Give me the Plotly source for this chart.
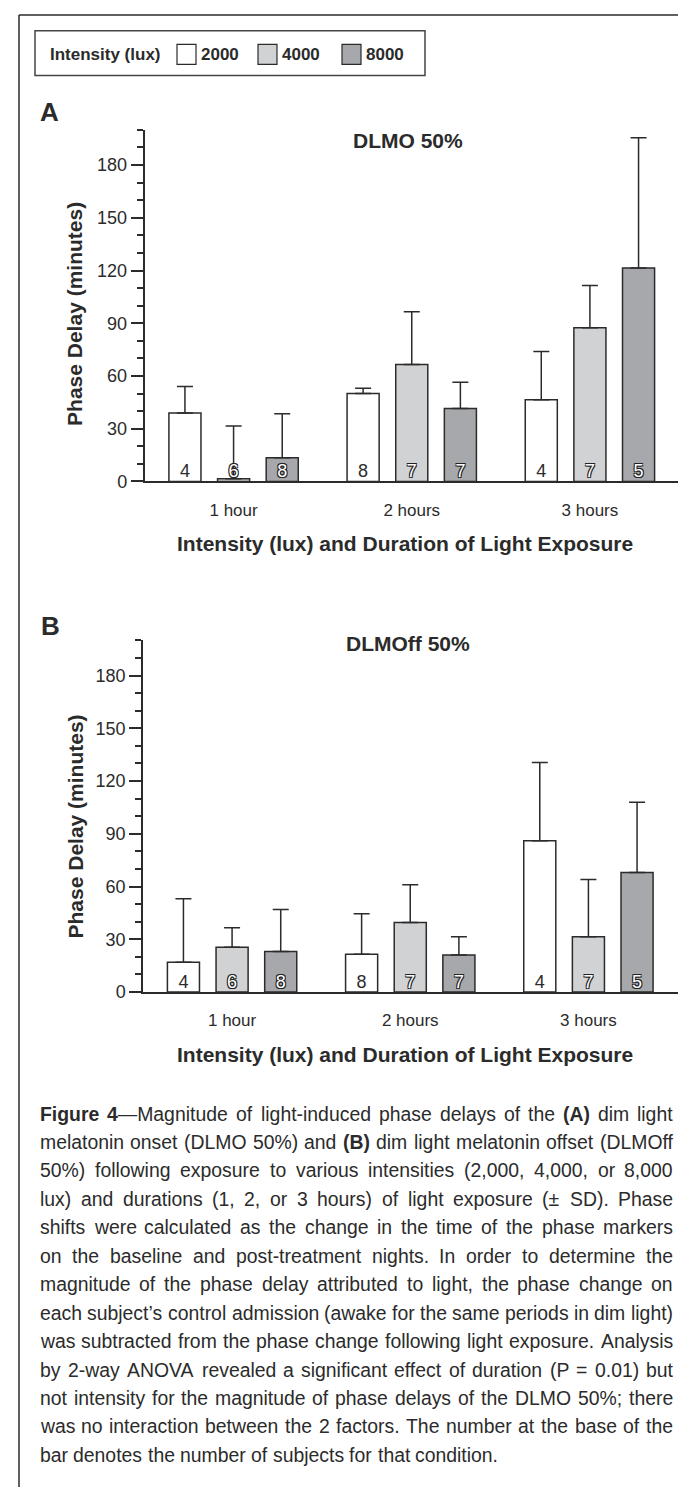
import plotly.graph_objects as go

W, H = 686, 1489
FONT = "Liberation Sans, Arial, Helvetica, sans-serif"
INK = "#2b2b2b"

# ---------------- data ----------------
durations = ["1 hour", "2 hours", "3 hours"]
intensities = ["2000", "4000", "8000"]
bar_colors = ["#ffffff", "#d1d2d4", "#a7a8ab"]

# Panel A: DLMO 50% phase delay (minutes), mean and +SD
dlmo_2000 = [39, 50, 46.5]
dlmo_4000 = [1.5, 66.5, 87.5]
dlmo_8000 = [13.5, 41.5, 121.5]
dlmo_sd_2000 = [15, 3, 27.5]
dlmo_sd_4000 = [30, 30, 24]
dlmo_sd_8000 = [25, 15, 74]

# Panel B: DLMOff 50%
dlmoff_2000 = [17, 21.5, 86]
dlmoff_4000 = [25.5, 39.5, 31.5]
dlmoff_8000 = [23, 21, 68]
dlmoff_sd_2000 = [36, 23, 44.5]
dlmoff_sd_4000 = [11, 21.5, 32.5]
dlmoff_sd_8000 = [24, 10.5, 40]

# number of subjects (same for both panels)
n_2000 = [4, 8, 4]
n_4000 = [6, 7, 7]
n_8000 = [8, 7, 5]

y_ticks = [0, 30, 60, 90, 120, 150, 180]

caption_lines = [
    "<b>Figure</b> <b>4</b>—Magnitude of light-induced phase delays of the <b>(A)</b> dim light",
    "melatonin onset (DLMO 50%) and <b>(B)</b> dim light melatonin offset (DLMOff",
    "50%) following exposure to various intensities (2,000, 4,000, or 8,000",
    "lux) and durations (1, 2, or 3 hours) of light exposure (± SD). Phase",
    "shifts were calculated as the change in the time of the phase markers",
    "on the baseline and post-treatment nights. In order to determine the",
    "magnitude of the phase delay attributed to light, the phase change on",
    "each subject’s control admission (awake for the same periods in dim light)",
    "was subtracted from the phase change following light exposure. Analysis",
    "by 2-way ANOVA revealed a significant effect of duration (P = 0.01) but",
    "not intensity for the magnitude of phase delays of the DLMO 50%; there",
    "was no interaction between the 2 factors. The number at the base of the",
    "bar denotes the number of subjects for that condition.",
]

panels = [
    dict(means=[dlmo_2000, dlmo_4000, dlmo_8000],
         sds=[dlmo_sd_2000, dlmo_sd_4000, dlmo_sd_8000],
         title="DLMO 50%", letter="A"),
    dict(means=[dlmoff_2000, dlmoff_4000, dlmoff_8000],
         sds=[dlmoff_sd_2000, dlmoff_sd_4000, dlmoff_sd_8000],
         title="DLMOff 50%", letter="B"),
]
counts = [n_2000, n_4000, n_8000]

# ---------------- layout helpers ----------------
def X(px):
    return px / W


def Y(py):
    return 1 - py / H


BAR_STEP = 0.273
BAR_W = 0.18

fig = go.Figure()

for p, panel in enumerate(panels):
    xa = "x" if p == 0 else "x2"
    ya = "y" if p == 0 else "y2"
    for k in range(3):
        xs = [i + (k - 1) * BAR_STEP for i in range(len(durations))]
        fig.add_trace(go.Bar(
            x=xs, y=panel["means"][k], width=BAR_W,
            marker=dict(color=bar_colors[k], line=dict(color=INK, width=1.5)),
            error_y=dict(type="data", array=panel["sds"][k],
                         arrayminus=[0] * len(durations), symmetric=False,
                         color=INK, thickness=1.5, width=8),
            name=intensities[k], xaxis=xa, yaxis=ya, showlegend=False,
            hoverinfo="skip",
        ))
        if k == 0:
            tf = dict(family=FONT, size=18, color=INK)
        else:
            tf = dict(family=FONT, size=18, color="#ffffff",
                      shadow="1px 1px 0 #222, -1px -1px 0 #222, 1px -1px 0 #222, -1px 1px 0 #222")
        fig.add_trace(go.Scatter(
            x=xs, y=[0] * len(durations), mode="text",
            text=[str(n) for n in counts[k]], textposition="top center",
            textfont=tf, xaxis=xa, yaxis=ya, showlegend=False, hoverinfo="skip",
        ))

axis_common_y = dict(
    range=[0, 200], tickvals=y_ticks, ticks="outside", ticklen=12, tickwidth=1.5,
    tickcolor=INK, showline=True, linecolor=INK, linewidth=1.5, showgrid=False,
    zeroline=False, tickfont=dict(family=FONT, size=18, color=INK),
    minor=dict(dtick=10, tick0=0, ticks="outside", ticklen=6, tickwidth=1.5,
               tickcolor=INK, showgrid=False),
    fixedrange=True,
)
axis_common_x = dict(
    range=[-0.5, 2.5], tickvals=[0, 1, 2], ticktext=durations, ticks="",
    showline=True, linecolor=INK, linewidth=1.5, showgrid=False, zeroline=False,
    tickfont=dict(family=FONT, size=17, color=INK), ticklabelstandoff=12,
    fixedrange=True,
)

fig.update_layout(
    width=W, height=H, margin=dict(l=0, r=0, t=0, b=0),
    paper_bgcolor="white", plot_bgcolor="white", showlegend=False,
    barmode="overlay",
    xaxis=dict(domain=[X(136.5), X(671)], anchor="y", **axis_common_x),
    yaxis=dict(domain=[Y(476.7), Y(122.7)], anchor="x", **axis_common_y),
    xaxis2=dict(domain=[X(135), X(669.5)], anchor="y2", **axis_common_x),
    yaxis2=dict(domain=[Y(990.7), Y(636.7)], anchor="x2", **axis_common_y),
)

shapes = []
ann = []
line_style = dict(color=INK, width=1.5)
# outer frame
shapes.append(dict(type="line", xref="paper", yref="paper", x0=X(11), x1=X(680), y0=Y(7), y1=Y(7), line=line_style))
shapes.append(dict(type="line", xref="paper", yref="paper", x0=X(11), x1=X(11), y0=Y(7), y1=Y(1489), line=line_style))
shapes.append(dict(type="line", xref="paper", yref="paper", x0=X(680), x1=X(680), y0=Y(7), y1=Y(1489), line=line_style))

# legend box
shapes.append(dict(type="rect", xref="paper", yref="paper", x0=X(27), x1=X(417), y0=Y(68), y1=Y(23),
                   line=dict(color="#444", width=1.5), fillcolor="white"))
ann.append(dict(text="<b>Intensity (lux)</b>", x=X(41), y=Y(46.7), xanchor="left", yanchor="middle"))
sw_left = [169, 250, 334]
for k in range(3):
    shapes.append(dict(type="rect", xref="paper", yref="paper", x0=X(sw_left[k]), x1=X(sw_left[k] + 19),
                       y0=Y(56.7), y1=Y(36.7), line=dict(color=INK, width=1.2), fillcolor=bar_colors[k]))
    ann.append(dict(text="<b>%s</b>" % intensities[k], x=X(sw_left[k] + 23), y=Y(46.7),
                    xanchor="left", yanchor="middle"))
for a in ann:
    a.update(font=dict(family=FONT, size=17, color=INK))

# panel labels and titles
for p, panel in enumerate(panels):
    off = 0 if p == 0 else 514
    ann.append(dict(text="<b>%s</b>" % panel["letter"], x=X(31 + p), y=Y(105 + off + (3 if p else 0)),
                    xanchor="left", yanchor="middle", font=dict(family=FONT, size=26, color=INK)))
    ann.append(dict(text="<b>%s</b>" % panel["title"], x=X(400), y=Y(133 + off - 7 * p),
                    xanchor="center", yanchor="middle", font=dict(family=FONT, size=21, color=INK)))
    ann.append(dict(text="<b>Intensity (lux) and Duration of Light Exposure</b>", x=X(396.7),
                    y=Y(539.3 + off), xanchor="center", yanchor="middle",
                    font=dict(family=FONT, size=21, color=INK)))
    ann.append(dict(text="<b>Phase Delay (minutes)</b>", x=X(67), y=Y(308 + off + 2 * p), textangle=-90,
                    xanchor="center", yanchor="middle", font=dict(family=FONT, size=21, color=INK)))

# ---------------- caption (justified) ----------------
REG = {' ': 278, '!': 278, '%': 889, '(': 333, ')': 333, ',': 278, '-': 333, '.': 278, ';': 278,
       '=': 584, '±': 584, '’': 222, '—': 1000, ':': 278}
for ch in "0123456789":
    REG[ch] = 556
REG.update(dict(A=667, B=667, C=722, D=722, E=667, F=611, G=778, H=722, I=278, J=500, K=667, L=556,
                M=833, N=722, O=778, P=667, Q=778, R=722, S=667, T=611, U=722, V=667, W=944, X=667,
                Y=667, Z=611))
REG.update(dict(a=556, b=556, c=500, d=556, e=556, f=278, g=556, h=556, i=222, j=222, k=500, l=222,
                m=833, n=556, o=556, p=556, q=556, r=333, s=500, t=278, u=556, v=500, w=722, x=500,
                y=500, z=500))
BOLD = dict(REG)
BOLD.update({'F': 611, 'i': 278, 'g': 611, 'u': 611, 'r': 389, 'e': 556, '4': 556, '(': 333,
             'A': 722, ')': 333, 'B': 722})


def word_width(word, size):
    bold = False
    w = 0
    i = 0
    while i < len(word):
        if word.startswith("<b>", i):
            bold = True
            i += 3
            continue
        if word.startswith("</b>", i):
            bold = False
            i += 4
            continue
        w += (BOLD if bold else REG).get(word[i], 556)
        i += 1
    return w * size / 1000.0


CAP_SIZE = 19.4
CAP_L, CAP_R = 31, 664
CAP_Y0, CAP_DY = 1113, 28.64
for li, line in enumerate(caption_lines):
    words = line.split(" ")
    widths = [word_width(w, CAP_SIZE) for w in words]
    if li < len(caption_lines) - 1 and len(words) > 1:
        gap = (CAP_R - CAP_L - sum(widths)) / (len(words) - 1)
    else:
        gap = 278 * CAP_SIZE / 1000.0
    xpos = CAP_L
    for w, ww in zip(words, widths):
        ann.append(dict(text=w, x=X(xpos), y=Y(CAP_Y0 + li * CAP_DY), xanchor="left", yanchor="middle",
                        font=dict(family=FONT, size=CAP_SIZE, color=INK)))
        xpos += ww + gap

for a in ann:
    a.update(xref="paper", yref="paper", showarrow=False, borderpad=0)

fig.update_layout(shapes=shapes, annotations=ann)
fig.write_html("out.html", config={"displayModeBar": False})
